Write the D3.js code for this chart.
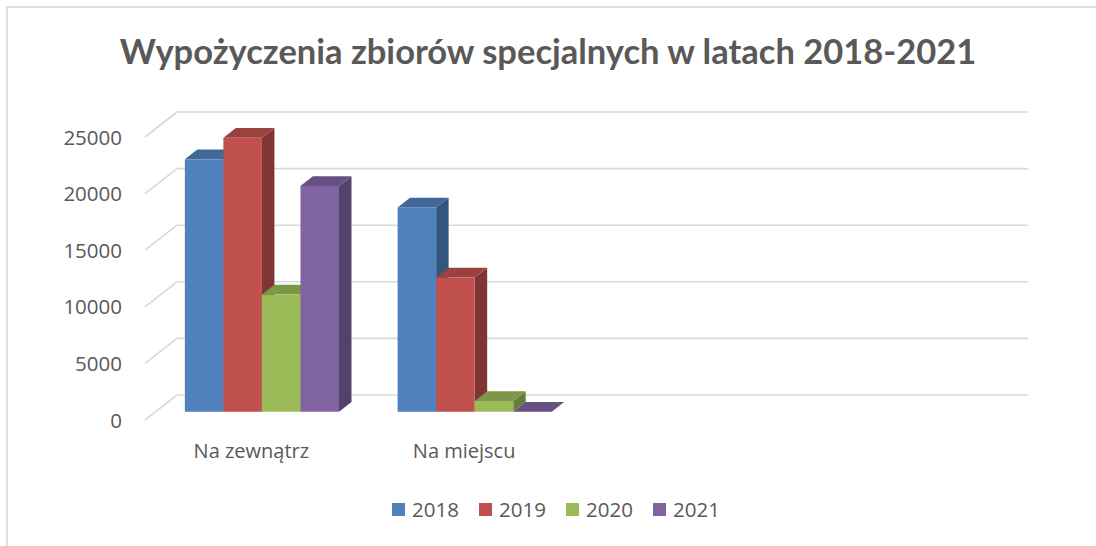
<!DOCTYPE html>
<html>
<head>
<meta charset="utf-8">
<script src="https://cdn.jsdelivr.net/npm/d3@7"></script>
<style>
  body { margin: 0; background: #fff; }
  svg { display: block; }
  text { font-family: "Open Sans", Lato, sans-serif; fill: #595959; }
  .title { font-family: Lato, "Open Sans", sans-serif; }
</style>
</head>
<body>
<div id="chart"></div>
<script>
var title = "Wypożyczenia zbiorów specjalnych w latach 2018-2021";
var categories = ["Na zewnątrz", "Na miejscu", "", ""];
var years = ["2018", "2019", "2020", "2021"];
var values2018 = [22300, 18050];
var values2019 = [24200, 11850];
var values2020 = [10350, 950];
var values2021 = [19950, 0];
var yTicks = [0, 5000, 10000, 15000, 20000, 25000];
var colors = ["#4F81BD", "#C0504D", "#9BBB59", "#8064A2"];

var W = 1096, H = 546;
var series = [values2018, values2019, values2020, values2021];

// 3d floor: front plane + depth offset
var depth = {dx: 32, dy: 25};
var barFront = 0.33, barBack = 0.72;

var svg = d3.select("#chart")
  .append("svg")
  .attr("width", W)
  .attr("height", H);

svg.append("rect")
  .attr("x", 7).attr("y", 7)
  .attr("width", W + 20).attr("height", H + 20)
  .style("fill", "#fff")
  .style("stroke", "#D9D9D9")
  .style("stroke-width", 1.7);

svg.append("text")
  .attr("class", "title")
  .attr("x", 548)
  .attr("y", 64)
  .attr("text-anchor", "middle")
  .style("font-size", "34.5px")
  .style("font-weight", "bold")
  .text(title);

var x = d3.scaleBand()
  .domain(d3.range(categories.length))
  .range([145, 996]);
var xs = d3.scaleBand()
  .domain(years)
  .range([0, x.bandwidth()])
  .paddingInner(0)
  .paddingOuter(0.76);
var y = d3.scaleLinear()
  .domain([0, 25000])
  .range([420, 137]);

function off(f) { return [depth.dx * f, -depth.dy * f]; }

// walls / gridlines
var grid = svg.append("g").attr("class", "grid");
grid.selectAll(".diag").data(yTicks)
  .enter().append("line")
  .attr("x1", x.range()[0])
  .attr("y1", function(d) {return y(d);})
  .attr("x2", x.range()[0] + depth.dx)
  .attr("y2", function(d) {return y(d) - depth.dy;});
grid.selectAll(".back").data(yTicks)
  .enter().append("line")
  .attr("x1", x.range()[0] + depth.dx)
  .attr("y1", function(d) {return y(d) - depth.dy;})
  .attr("x2", x.range()[1] + depth.dx)
  .attr("y2", function(d) {return y(d) - depth.dy;});
grid.selectAll("line")
  .style("stroke", "#D9D9D9")
  .style("stroke-width", 1.6);

// y tick labels
svg.selectAll(".ylabel").data(yTicks)
  .enter().append("text")
  .attr("class", "ylabel")
  .attr("x", 122)
  .attr("y", function(d) {return y(d) + 7.5;})
  .attr("text-anchor", "end")
  .style("font-size", "20.5px")
  .text(function(d) {return d;});

// category labels
svg.selectAll(".xlabel").data(categories)
  .enter().append("text")
  .attr("class", "xlabel")
  .attr("x", function(d, i) {return x(i) + x.bandwidth() / 2;})
  .attr("y", 458)
  .attr("text-anchor", "middle")
  .style("font-size", "20px")
  .text(function(d) {return d;});

// bars
var bars = [];
categories.forEach(function(c, ci) {
  years.forEach(function(yr, si) {
    var v = series[si][ci];
    if (v == undefined) return;
    bars.push({c: ci, s: si, v: v});
  });
});

var o0 = off(barFront), o1 = off(barBack);
var ddx = o1[0] - o0[0], ddy = o1[1] - o0[1];

var barG = svg.selectAll(".bar").data(bars)
  .enter().append("g")
  .attr("class", "bar");

barG.each(function(d) {
  var g = d3.select(this);
  var x0 = x(d.c) + xs(years[d.s]) + o0[0],
      x1 = x0 + xs.bandwidth(),
      yb = y(0) + o0[1],
      yt = y(d.v) + o0[1];
  var base = d3.color(colors[d.s]);
  // right side
  g.append("path")
    .attr("d", "M" + x1 + "," + yt + "L" + (x1 + ddx) + "," + (yt + ddy) +
      "L" + (x1 + ddx) + "," + (yb + ddy) + "L" + x1 + "," + yb + "Z")
    .style("fill", base.darker(1.15));
  // top
  g.append("path")
    .attr("d", "M" + x0 + "," + yt + "L" + x1 + "," + yt +
      "L" + (x1 + ddx) + "," + (yt + ddy) + "L" + (x0 + ddx) + "," + (yt + ddy) + "Z")
    .style("fill", base.darker(0.6));
  // front
  g.append("rect")
    .attr("x", x0)
    .attr("y", yt)
    .attr("width", xs.bandwidth())
    .attr("height", yb - yt)
    .style("fill", colors[d.s]);
});

// legend
var legX = [392, 479, 566, 653];
var leg = svg.selectAll(".legend").data(years)
  .enter().append("g")
  .attr("class", "legend")
  .attr("transform", function(d, i) {return "translate(" + legX[i] + ",503)";});
leg.append("rect")
  .attr("width", 13)
  .attr("height", 13)
  .style("fill", function(d, i) {return colors[i];});
leg.append("text")
  .attr("x", 20)
  .attr("y", 13.5)
  .style("font-size", "20.5px")
  .text(function(d) {return d;});
</script>
</body>
</html>
